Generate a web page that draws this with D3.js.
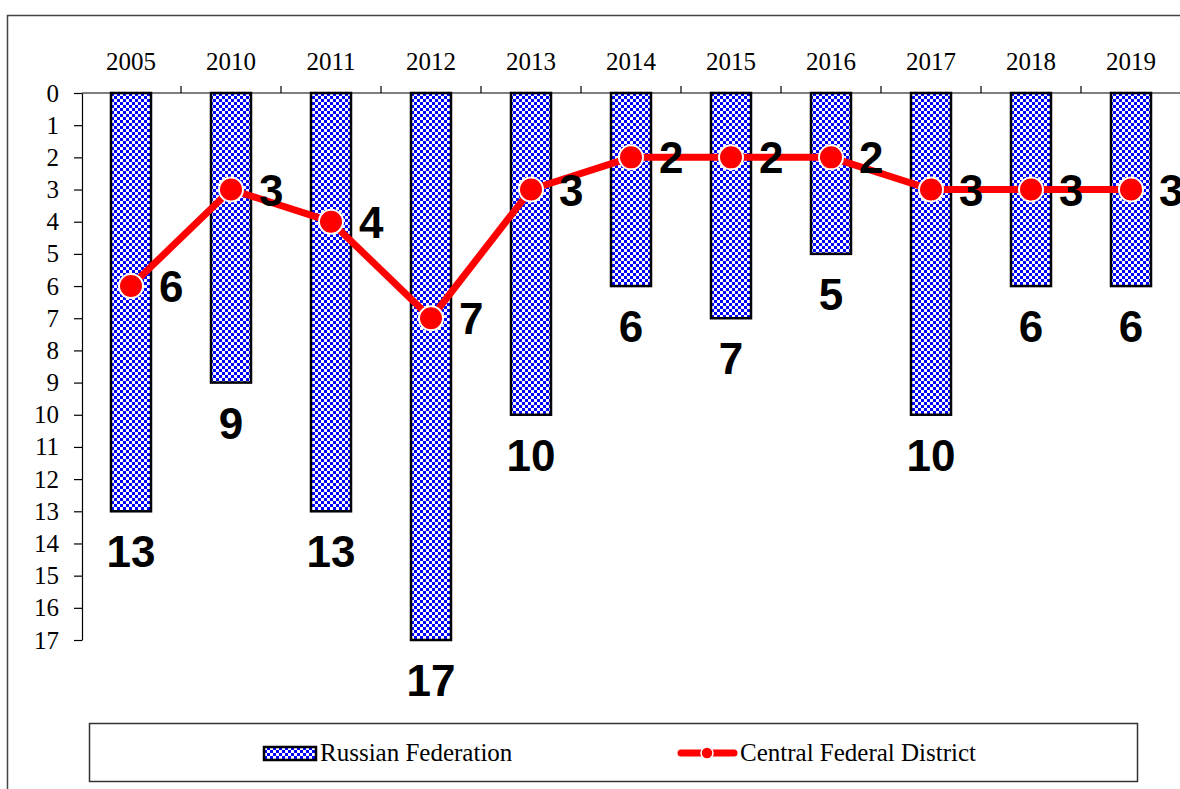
<!DOCTYPE html>
<html>
<head>
<meta charset="utf-8">
<script src="https://cdn.jsdelivr.net/npm/d3@7"></script>
<style>
  body { margin: 0; background: #fff; }
  svg { display: block; }
</style>
</head>
<body>
<svg id="chart" width="1180" height="789"></svg>
<script>
  var years = ["2005", "2010", "2011", "2012", "2013", "2014", "2015", "2016", "2017", "2018", "2019"];
  var russianFederation = [13, 9, 13, 17, 10, 6, 7, 5, 10, 6, 6];
  var centralDistrict = [6, 3, 4, 7, 3, 2, 2, 2, 3, 3, 3];
  var yTicks = d3.range(0, 18);
  var seriesNames = ["Russian Federation", "Central Federal District"];

  var svg = d3.select("#chart");
  var serif = "'Liberation Serif', 'Times New Roman', serif";
  var sans = "'Liberation Sans', Arial, sans-serif";

  // checkered fill used by the bars
  var defs = svg.append("defs");
  var pat = defs.append("pattern")
    .attr("id", "checker")
    .attr("patternUnits", "userSpaceOnUse")
    .attr("width", 6).attr("height", 6);
  pat.append("rect").attr("width", 6).attr("height", 6).attr("fill", "#fff");
  pat.append("rect").attr("width", 3).attr("height", 3).attr("fill", "#0000ff");
  pat.append("rect").attr("x", 3).attr("y", 3).attr("width", 3).attr("height", 3).attr("fill", "#0000ff");

  // outer frame
  svg.append("rect")
    .attr("x", 7.5).attr("y", 15.5)
    .attr("width", 1200).attr("height", 800)
    .attr("fill", "none").attr("stroke", "#444").attr("stroke-width", 1.5);

  var x = d3.scaleBand()
    .domain(years)
    .range([82, 1182])
    .paddingInner(0.6)
    .paddingOuter(0.3);

  var y = d3.scaleLinear()
    .domain([0, 17])
    .range([93, 640]);

  // bars
  svg.append("g").selectAll("rect")
    .data(russianFederation)
    .join("rect")
    .attr("x", function(d, i) { return x(years[i]) - 1; })
    .attr("y", y(0))
    .attr("width", x.bandwidth())
    .attr("height", function(d) { return y(d) - y(0); })
    .attr("fill", "url(#checker)")
    .attr("stroke", "#000")
    .attr("stroke-width", 2.5);

  // bar value labels
  svg.append("g").selectAll("text")
    .data(russianFederation)
    .join("text")
    .attr("x", function(d, i) { return x(years[i]) + x.bandwidth() / 2 - 1; })
    .attr("y", function(d) { return y(d) + 56; })
    .attr("text-anchor", "middle")
    .style("font-family", sans)
    .style("font-weight", "bold")
    .style("font-size", "44px")
    .text(function(d) { return d; });

  // y axis
  var yAxis = svg.append("g")
    .attr("transform", "translate(82,0)")
    .call(d3.axisLeft(y).tickValues(yTicks).tickSize(8).tickSizeOuter(0).tickPadding(15));
  yAxis.attr("font-size", null).attr("font-family", null);
  yAxis.selectAll("text")
    .style("font-family", serif)
    .style("font-size", "25px")
    .attr("fill", "#000");
  yAxis.selectAll("line, path").attr("stroke", "#000").attr("stroke-width", 1.2);

  // top category axis: line with ticks at band boundaries
  var step = x.step();
  var boundaries = years.map(function(d) { return x(d) + x.bandwidth() / 2 + step / 2 - 1; });
  var topAxis = svg.append("g");
  topAxis.append("line")
    .attr("x1", 82).attr("x2", 1182)
    .attr("y1", y(0)).attr("y2", y(0))
    .attr("stroke", "#000").attr("stroke-width", 1.2);
  topAxis.selectAll(".tick")
    .data(boundaries)
    .join("line")
    .attr("class", "tick")
    .attr("x1", function(d) { return d; }).attr("x2", function(d) { return d; })
    .attr("y1", y(0)).attr("y2", y(0) - 7)
    .attr("stroke", "#000").attr("stroke-width", 1.2);
  topAxis.selectAll("text")
    .data(years)
    .join("text")
    .attr("x", function(d) { return x(d) + x.bandwidth() / 2 - 1; })
    .attr("y", 70)
    .attr("text-anchor", "middle")
    .style("font-family", serif)
    .style("font-size", "25px")
    .text(function(d) { return d; });

  // line series
  var cx = function(d, i) { return x(years[i]) + x.bandwidth() / 2 - 1; };
  var line = d3.line()
    .x(cx)
    .y(function(d) { return y(d); });

  svg.append("path")
    .datum(centralDistrict)
    .attr("d", line)
    .attr("fill", "none")
    .attr("stroke", "#ff0000")
    .attr("stroke-width", 7)
    .attr("stroke-linejoin", "round");

  svg.append("g").selectAll("circle")
    .data(centralDistrict)
    .join("circle")
    .attr("cx", cx)
    .attr("cy", function(d) { return y(d); })
    .attr("r", 12)
    .attr("fill", "#ff0000")
    .attr("stroke", "#fff")
    .attr("stroke-width", 2);

  svg.append("g").selectAll("text")
    .data(centralDistrict)
    .join("text")
    .attr("x", function(d, i) { return cx(d, i) + 28; })
    .attr("y", function(d) { return y(d) + 16; })
    .style("font-family", sans)
    .style("font-weight", "bold")
    .style("font-size", "44px")
    .text(function(d) { return d; });

  // legend
  var legend = svg.append("g");
  legend.append("rect")
    .attr("x", 89.5).attr("y", 723.5)
    .attr("width", 1048).attr("height", 58)
    .attr("fill", "#fff").attr("stroke", "#333").attr("stroke-width", 1.5);

  legend.append("rect")
    .attr("x", 264).attr("y", 747)
    .attr("width", 52).attr("height", 13)
    .attr("fill", "url(#checker)")
    .attr("stroke", "#000").attr("stroke-width", 2.5);
  legend.append("text")
    .attr("x", 320).attr("y", 761)
    .style("font-family", serif).style("font-size", "25px")
    .text(seriesNames[0]);

  legend.append("line")
    .attr("x1", 681).attr("x2", 734)
    .attr("y1", 753).attr("y2", 753)
    .attr("stroke", "#ff0000").attr("stroke-width", 7)
    .attr("stroke-linecap", "round");
  legend.append("circle")
    .attr("cx", 707).attr("cy", 753).attr("r", 6)
    .attr("fill", "#ff0000").attr("stroke", "#fff").attr("stroke-width", 1.5);
  legend.append("text")
    .attr("x", 740).attr("y", 761)
    .style("font-family", serif).style("font-size", "25px")
    .text(seriesNames[1]);
</script>
</body>
</html>
